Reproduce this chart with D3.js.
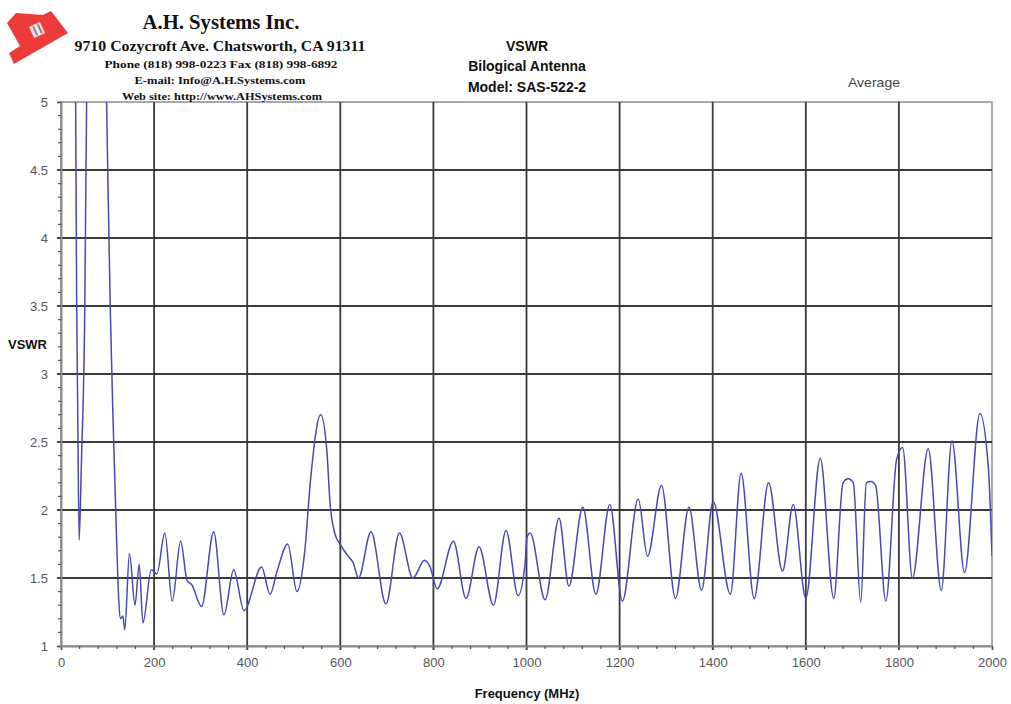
<!DOCTYPE html>
<html>
<head>
<meta charset="utf-8">
<script src="https://cdn.jsdelivr.net/npm/d3@7"></script>
<style>
  html, body { margin: 0; padding: 0; background: #fff; }
  svg { display: block; }
</style>
</head>
<body>
<svg id="chart" width="1011" height="704"></svg>
<script>
// ---- data ----
const freqMHz = [30, 33.5, 36, 39, 44, 51, 55, 75, 98, 101.5, 106, 112, 119, 124, 128, 133, 137, 147, 159, 168, 176, 194, 206, 223, 239, 257, 271, 281, 302, 328, 350, 371, 393, 431, 449, 465, 487, 507, 524, 536, 558, 571, 578, 588, 601, 617, 628, 639, 666, 698, 727, 756, 781, 793, 808, 843, 870, 898, 929, 956, 982, 997, 1001, 1008, 1040, 1070, 1091, 1121, 1149, 1179, 1206, 1240, 1260, 1290, 1320, 1349, 1376, 1401, 1438, 1461, 1489, 1520, 1550, 1573, 1600, 1631, 1660, 1680, 1691, 1702, 1718, 1730, 1740, 1750, 1772, 1795, 1808, 1829, 1863, 1891, 1914, 1941, 1974, 1992, 2000];
const vswr    = [6.0, 3.6, 2.7, 1.78, 2.37, 3.46, 5.0, 8.0, 5.0, 4.28, 3.46, 2.64, 1.83, 1.34, 1.2, 1.22, 1.12, 1.68, 1.3, 1.6, 1.17, 1.56, 1.53, 1.83, 1.33, 1.77, 1.48, 1.45, 1.29, 1.84, 1.23, 1.56, 1.26, 1.58, 1.38, 1.56, 1.75, 1.40, 1.71, 2.22, 2.70, 2.44, 2.05, 1.83, 1.74, 1.66, 1.61, 1.50, 1.84, 1.31, 1.83, 1.50, 1.63, 1.58, 1.42, 1.77, 1.35, 1.73, 1.30, 1.85, 1.37, 1.61, 1.80, 1.83, 1.34, 1.94, 1.44, 2.02, 1.38, 2.04, 1.33, 2.08, 1.66, 2.18, 1.35, 2.02, 1.41, 2.06, 1.38, 2.27, 1.35, 2.20, 1.55, 2.04, 1.35, 2.38, 1.35, 2.20, 2.23, 2.20, 1.32, 2.20, 2.21, 2.18, 1.33, 2.37, 2.46, 1.50, 2.45, 1.41, 2.51, 1.54, 2.71, 2.32, 1.66];
const xTickValues = [0, 200, 400, 600, 800, 1000, 1200, 1400, 1600, 1800, 2000];
const yTickValues = [1, 1.5, 2, 2.5, 3, 3.5, 4, 4.5, 5];
const yTickLabels = ["1", "1.5", "2", "2.5", "3", "3.5", "4", "4.5", "5"];
const titleLines = ["VSWR", "Bilogical Antenna", "Model: SAS-522-2"];
const headerLines = [
  "A.H. Systems Inc.",
  "9710 Cozycroft Ave. Chatsworth, CA 91311",
  "Phone (818) 998-0223 Fax (818) 998-6892",
  "E-mail:  Info@A.H.Systems.com",
  "Web site:  http://www.AHSystems.com"
];
const legendLabel = "Average";
const xAxisTitle = "Frequency (MHz)";
const yAxisTitle = "VSWR";

// ---- layout ----
const svg = d3.select("#chart");
const pL = 61, pR = 992, pT = 102, pB = 646;

const x = d3.scaleLinear().domain([0, 2000]).range([pL, pR]);
const y = d3.scaleLinear().domain([1, 5]).range([pB, pT]);

const sans = "Arial, 'Liberation Sans', sans-serif";
const serif = "'Times New Roman', 'Liberation Serif', serif";

// plot border (light)
svg.append("rect")
  .attr("x", pL).attr("y", pT)
  .attr("width", pR - pL).attr("height", pB - pT)
  .attr("fill", "none").attr("stroke", "#a8a8a8").attr("stroke-width", 2);

// grid
const grid = svg.append("g");
grid.selectAll("line.v").data(xTickValues.filter(d => d > 0 && d < 2000)).join("line")
  .attr("x1", d => x(d)).attr("x2", d => x(d))
  .attr("y1", pT).attr("y2", pB + 4)
  .attr("stroke", "#3a3a3a").attr("stroke-width", 1.8);
grid.selectAll("line.h").data(yTickValues.filter(d => d > 1 && d < 5)).join("line")
  .attr("x1", pL - 4).attr("x2", pR)
  .attr("y1", d => y(d)).attr("y2", d => y(d))
  .attr("stroke", "#3a3a3a").attr("stroke-width", 1.8);

// x axis
const xAxis = d3.axisBottom(x).tickValues(xTickValues).tickSize(4).tickPadding(8).tickFormat(d3.format("d"));
const gx = svg.append("g").attr("transform", `translate(0,${pB})`).call(xAxis);
gx.select(".domain").attr("stroke", "#8a8a8a").attr("stroke-width", 2);
gx.selectAll(".tick line").attr("stroke", "#555");
gx.selectAll("text").attr("font-family", sans).attr("font-size", 13).attr("fill", "#555");
const xMinor = d3.range(0, 2001, 40).filter(d => d % 200 !== 0);
svg.append("g").selectAll("line").data(xMinor).join("line")
  .attr("x1", d => x(d)).attr("x2", d => x(d))
  .attr("y1", pB).attr("y2", pB + 3)
  .attr("stroke", "#555").attr("stroke-width", 1.2);

// y axis
const yAxis = d3.axisLeft(y).tickValues(yTickValues).tickSize(4).tickPadding(9)
  .tickFormat((d, i) => yTickLabels[i]);
const gy = svg.append("g").attr("transform", `translate(${pL},0)`).call(yAxis);
gy.select(".domain").attr("stroke", "#8a8a8a").attr("stroke-width", 2);
gy.selectAll(".tick line").attr("stroke", "#555");
gy.selectAll("text").attr("font-family", sans).attr("font-size", 13).attr("fill", "#555");
const yMinor = d3.range(10, 51, 1).map(d => d / 10).filter(d => Math.round(d * 10) % 5 !== 0);
svg.append("g").selectAll("line").data(yMinor).join("line")
  .attr("x1", pL - 3).attr("x2", pL)
  .attr("y1", d => y(d)).attr("y2", d => y(d))
  .attr("stroke", "#555").attr("stroke-width", 1.2);

// clip for the curve
svg.append("clipPath").attr("id", "plotclip")
  .append("rect").attr("x", pL).attr("y", pT)
  .attr("width", pR - pL).attr("height", pB - pT);

const data = freqMHz.map((f, i) => ({ f, v: vswr[i] }));
const line = d3.line().x(d => x(d.f)).y(d => y(d.v)).curve(d3.curveMonotoneX);
svg.append("path")
  .datum(data)
  .attr("clip-path", "url(#plotclip)")
  .attr("d", line)
  .attr("fill", "none")
  .attr("stroke", "#4848b6")
  .attr("stroke-width", 1.5)
  .attr("stroke-linejoin", "round");

// axis titles
svg.append("text").attr("x", 527).attr("y", 698)
  .attr("text-anchor", "middle").attr("font-family", sans).attr("font-weight", "bold")
  .attr("font-size", 13).attr("fill", "#111").text(xAxisTitle);
svg.append("text").attr("x", 8).attr("y", 349)
  .attr("font-family", sans).attr("font-weight", "bold")
  .attr("font-size", 13).attr("fill", "#111").text(yAxisTitle);

// chart title
const titleY = [51, 71, 92];
svg.append("g").selectAll("text").data(titleLines).join("text")
  .attr("x", 527).attr("y", (d, i) => titleY[i])
  .attr("text-anchor", "middle").attr("font-family", sans).attr("font-weight", "bold")
  .attr("font-size", 14).attr("fill", "#111").text(d => d);

// legend label
svg.append("text").attr("x", 848).attr("y", 87)
  .attr("font-family", sans).attr("font-size", 13).attr("fill", "#444")
  .attr("textLength", 52).attr("lengthAdjust", "spacingAndGlyphs").text(legendLabel);

// header block
const hdr = [
  { y: 29, size: 21, cx: 221, w: 157 },
  { y: 51, size: 14.5, cx: 220, w: 291 },
  { y: 68, size: 10.5, cx: 221, w: 233 },
  { y: 84, size: 10.5, cx: 220, w: 171 },
  { y: 100, size: 10.5, cx: 222, w: 200 }
];
svg.append("g").selectAll("text").data(headerLines).join("text")
  .attr("x", (d, i) => hdr[i].cx).attr("y", (d, i) => hdr[i].y)
  .attr("text-anchor", "middle").attr("font-family", serif).attr("font-weight", "bold")
  .attr("font-size", (d, i) => hdr[i].size).attr("fill", "#111")
  .attr("textLength", (d, i) => hdr[i].w).attr("lengthAdjust", "spacingAndGlyphs")
  .text(d => d);

// logo (red irregular block with white "II" mark)
const logo = svg.append("g");
logo.append("path")
  .attr("d", "M7,23 L16,13 L43,15 L51,11 L68,33 L14,64 L9,53 L20,46 Z")
  .attr("fill", "#ec3b3b");
const mark = logo.append("g").attr("transform", "translate(37,30) rotate(-25)");
mark.append("rect").attr("x", -6).attr("y", -6).attr("width", 12).attr("height", 12).attr("fill", "#f6e2e2");
mark.append("rect").attr("x", -3).attr("y", -5).attr("width", 2).attr("height", 10).attr("fill", "#8a8a8a");
mark.append("rect").attr("x", 2).attr("y", -5).attr("width", 2).attr("height", 10).attr("fill", "#8a8a8a");
</script>
</body>
</html>
